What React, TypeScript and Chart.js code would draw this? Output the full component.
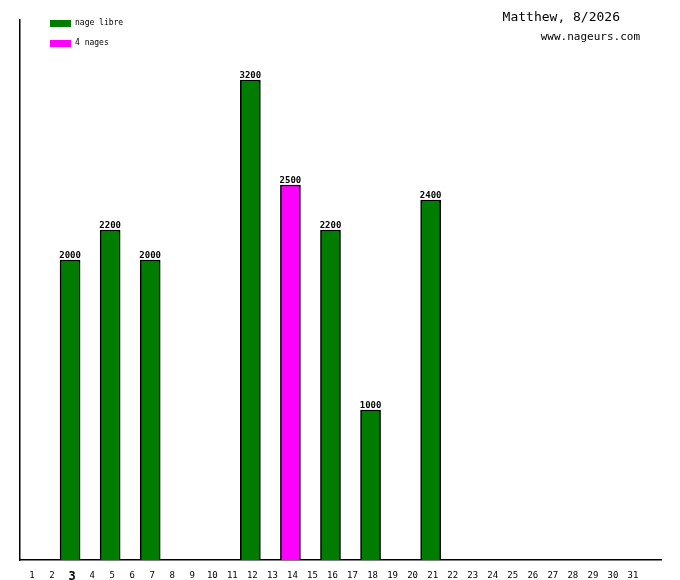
import { useEffect, useRef } from 'react';
import { Chart, registerables, type Plugin } from 'chart.js';

Chart.register(...registerables);

const FONT = "'DejaVu Sans Mono','Liberation Mono',monospace";

// days of the month, plus one empty slot at the end of the axis
const days = Array.from({ length: 31 }, (_, i) => String(i + 1)).concat(['']);
const freestyle: (number | null)[] = [null, null, 2000, null, 2200, null, 2000, null, null, null, null, 3200, null, null, null, 2200, null, 1000, null, null, 2400];
const medley: (number | null)[] = [null, null, null, null, null, null, null, null, null, null, null, null, null, 2500];
const seriesNames = ['nage libre', '4 nages'];
const seriesColors = ['#007d00', '#ff00ff'];
const today = 3;
const title = 'Matthew, 8/2026';
const subtitle = 'www.nageurs.com';

const decorations: Plugin<'bar'> = {
  id: 'decorations',
  afterDatasetsDraw(chart) {
    const { ctx } = chart;
    ctx.save();
    ctx.fillStyle = '#000';
    ctx.font = `bold 9px ${FONT}`;
    ctx.textAlign = 'center';
    ctx.textBaseline = 'bottom';
    chart.data.datasets.forEach((ds, di) => {
      const meta = chart.getDatasetMeta(di);
      meta.data.forEach((el: any, i) => {
        const v = ds.data[i] as number | null;
        if (v == null) return;
        ctx.fillText(String(v), el.x, el.y);
      });
    });
    // legend
    ctx.textAlign = 'left';
    ctx.textBaseline = 'middle';
    ctx.font = `8px ${FONT}`;
    seriesNames.forEach((name, i) => {
      const y = 20 + i * 20;
      ctx.fillStyle = seriesColors[i];
      ctx.fillRect(50, y, 21, 7);
      ctx.fillStyle = '#000';
      ctx.fillText(name, 75, y + 3);
    });
    // title
    ctx.textAlign = 'right';
    ctx.font = `13px ${FONT}`;
    ctx.fillText(title, 620, 18);
    ctx.font = `11px ${FONT}`;
    ctx.fillText(subtitle, 640, 37);
    ctx.restore();
  },
};

export default function App() {
  const canvasRef = useRef<HTMLCanvasElement>(null);

  useEffect(() => {
    document.body.style.margin = '0';
    if (!canvasRef.current) return;
    const chart = new Chart(canvasRef.current, {
      type: 'bar',
      data: {
        labels: days,
        datasets: [
          { label: seriesNames[0], data: freestyle, backgroundColor: seriesColors[0] },
          { label: seriesNames[1], data: medley, backgroundColor: seriesColors[1] },
        ],
      },
      options: {
        animation: false,
        responsive: false,
        devicePixelRatio: 1,
        layout: { padding: { left: 20, top: 20, right: 19, bottom: 0 } },
        datasets: {
          bar: {
            grouped: false,
            barPercentage: 1,
            categoryPercentage: 1,
            borderColor: '#000',
            borderWidth: 1.5,
          },
        },
        plugins: { legend: { display: false }, tooltip: { enabled: false } },
        scales: {
          x: {
            grid: { display: false },
            border: { color: '#000', width: 1.5 },
            afterFit: (scale) => { scale.height = 20; },
            ticks: {
              color: '#000',
              maxRotation: 0,
              autoSkip: false,
              padding: 2,
              labelOffset: 2,
              font: (c: any) => c.index === today - 1
                ? { family: FONT, size: 12, weight: 'bold' }
                : { family: FONT, size: 9 },
            },
          },
          y: {
            min: 0,
            max: 3600,
            grid: { display: false },
            border: { color: '#000', width: 1.5 },
            ticks: { display: false },
            afterFit: (scale) => { scale.width = 0; },
          },
        },
      },
      plugins: [decorations],
    });
    return () => chart.destroy();
  }, []);

  return (
    <div style={{ width: 680, height: 580 }}>
      <canvas ref={canvasRef} width={680} height={580}></canvas>
    </div>
  );
}
